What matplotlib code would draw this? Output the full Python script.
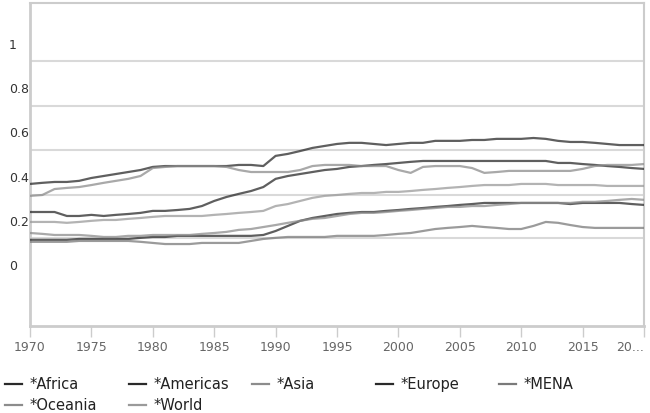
import matplotlib
matplotlib.use("Agg")
import matplotlib.pyplot as plt
from matplotlib.lines import Line2D

years = list(range(1970, 2021))

africa = [0.109, 0.109, 0.109, 0.109, 0.113, 0.113, 0.113, 0.113, 0.113, 0.118,
          0.122, 0.122, 0.127, 0.127, 0.127, 0.127, 0.127, 0.127, 0.127, 0.131,
          0.149, 0.172, 0.195, 0.208, 0.217, 0.226, 0.231, 0.235, 0.235, 0.240,
          0.244, 0.249, 0.253, 0.258, 0.262, 0.267, 0.271, 0.276, 0.276, 0.276,
          0.276, 0.276, 0.276, 0.276, 0.271, 0.276, 0.276, 0.276, 0.276, 0.271,
          0.267]
americas = [0.235, 0.235, 0.235, 0.217, 0.217, 0.222, 0.217, 0.222, 0.226, 0.231,
            0.240, 0.240, 0.244, 0.249, 0.262, 0.285, 0.303, 0.317, 0.330, 0.348,
            0.385, 0.398, 0.407, 0.416, 0.425, 0.430, 0.439, 0.443, 0.448, 0.452,
            0.457, 0.462, 0.466, 0.466, 0.466, 0.466, 0.466, 0.466, 0.466, 0.466,
            0.466, 0.466, 0.466, 0.457, 0.457, 0.452, 0.448, 0.443, 0.439, 0.434,
            0.430]
asia = [0.140, 0.136, 0.131, 0.131, 0.131, 0.127, 0.122, 0.122, 0.127, 0.127,
        0.131, 0.131, 0.131, 0.131, 0.136, 0.140, 0.145, 0.154, 0.158, 0.167,
        0.176, 0.186, 0.195, 0.204, 0.208, 0.217, 0.226, 0.231, 0.231, 0.235,
        0.240, 0.244, 0.249, 0.253, 0.258, 0.258, 0.262, 0.262, 0.267, 0.271,
        0.276, 0.276, 0.276, 0.276, 0.276, 0.281, 0.281, 0.285, 0.290, 0.294,
        0.290]
europe = [0.362, 0.367, 0.371, 0.371, 0.376, 0.389, 0.398, 0.407, 0.416, 0.425,
          0.439, 0.443, 0.443, 0.443, 0.443, 0.443, 0.443, 0.448, 0.448, 0.443,
          0.489, 0.498, 0.511, 0.525, 0.534, 0.543, 0.548, 0.548, 0.543, 0.538,
          0.543, 0.548, 0.548, 0.557, 0.557, 0.557, 0.561, 0.561, 0.566, 0.566,
          0.566, 0.570, 0.566, 0.557, 0.552, 0.552, 0.548, 0.543, 0.538, 0.538,
          0.538]
mena = [0.100, 0.100, 0.100, 0.100, 0.104, 0.104, 0.104, 0.104, 0.104, 0.100,
        0.095, 0.090, 0.090, 0.090, 0.095, 0.095, 0.095, 0.095, 0.104, 0.113,
        0.118, 0.122, 0.122, 0.122, 0.122, 0.127, 0.127, 0.127, 0.127, 0.131,
        0.136, 0.140, 0.149, 0.158, 0.163, 0.167, 0.172, 0.167, 0.163, 0.158,
        0.158, 0.172, 0.190, 0.186, 0.176, 0.167, 0.163, 0.163, 0.163, 0.163,
        0.163]
oceania = [0.308, 0.312, 0.339, 0.344, 0.348, 0.357, 0.367, 0.376, 0.385, 0.398,
           0.434, 0.439, 0.443, 0.443, 0.443, 0.443, 0.439, 0.425, 0.416, 0.416,
           0.416, 0.416, 0.425, 0.443, 0.448, 0.448, 0.448, 0.443, 0.443, 0.443,
           0.425, 0.412, 0.439, 0.443, 0.443, 0.443, 0.434, 0.412, 0.416, 0.421,
           0.421, 0.421, 0.421, 0.421, 0.421, 0.430, 0.443, 0.448, 0.448, 0.448,
           0.452]
world = [0.190, 0.190, 0.190, 0.186, 0.190, 0.195, 0.199, 0.199, 0.204, 0.208,
         0.213, 0.217, 0.217, 0.217, 0.217, 0.222, 0.226, 0.231, 0.235, 0.240,
         0.262, 0.271, 0.285, 0.299, 0.308, 0.312, 0.317, 0.321, 0.321, 0.326,
         0.326, 0.330, 0.335, 0.339, 0.344, 0.348, 0.353, 0.357, 0.357, 0.357,
         0.362, 0.362, 0.362, 0.357, 0.357, 0.357, 0.357, 0.353, 0.353, 0.353,
         0.353]

series_names = ["*Africa", "*Americas", "*Asia", "*Europe", "*MENA", "*Oceania", "*World"]
series_values = [africa, americas, asia, europe, mena, oceania, world]
series_colors = ["#2a2a2a", "#2a2a2a", "#8c8c8c", "#2a2a2a", "#7a7a7a", "#8c8c8c", "#9a9a9a"]

ytick_values = [0, 0.2, 0.4, 0.6, 0.8, 1]
ytick_labels = ["0", "0.2", "0.4", "0.6", "0.8", "1"]
grid_levels = [0.118, 0.312, 0.516, 0.715, 0.919]
xtick_values = [1970, 1975, 1980, 1985, 1990, 1995, 2000, 2005, 2010, 2015, 2020]
xtick_labels = ["1970", "1975", "1980", "1985", "1990", "1995", "2000", "2005",
                "2010", "2015", "20..."]

W, H = 650, 414
fig = plt.figure(figsize=(6.5, 4.14), dpi=100)
ax = fig.add_axes([30 / W, 1 - 327 / H, 614 / W, 323 / H])

for g in grid_levels:
    ax.axhline(g, color="#d9d9d9", linewidth=1.5, zorder=1)

for name, vals, col in zip(series_names, series_values, series_colors):
    ax.plot(years, vals, color=col, linewidth=1.6, alpha=0.75, zorder=3,
            solid_capstyle="butt")

ax.set_xlim(1970, 2020)
ax.set_ylim(-0.281, 1.181)

for side in ["left", "bottom", "right", "top"]:
    ax.spines[side].set_color("#cccccc")
ax.spines["left"].set_linewidth(2)
ax.spines["bottom"].set_linewidth(2)
ax.spines["right"].set_linewidth(1.5)
ax.spines["top"].set_linewidth(1.5)

ax.set_yticks(ytick_values)
ax.set_yticklabels(ytick_labels, ha="left", fontsize=9, color="#333333",
                   family="DejaVu Sans")
ax.tick_params(axis="y", length=0, pad=15)

ax.set_xticks(xtick_values)
ax.set_xticklabels(xtick_labels, fontsize=9, color="#666666", family="DejaVu Sans")
ax.tick_params(axis="x", length=8, width=1, color="#cccccc", pad=2)
ax.get_xticklabels()[-1].set_horizontalalignment("right")

# legend drawn manually in two rows
for i, (name, col) in enumerate(zip(series_names, series_colors)):
    row, colidx = divmod(i, 5)
    x0 = (5 + colidx * 123.5) / W
    yc = 1 - (385 + row * 21) / H
    fig.add_artist(Line2D([x0, x0 + 17 / W], [yc, yc], color=col, linewidth=1.6,
                          transform=fig.transFigure))
    fig.text(x0 + 25 / W, yc, name, fontsize=10.5, color="#222222",
             va="center", ha="left", family="DejaVu Sans")

fig.savefig("out.png", dpi=100)
